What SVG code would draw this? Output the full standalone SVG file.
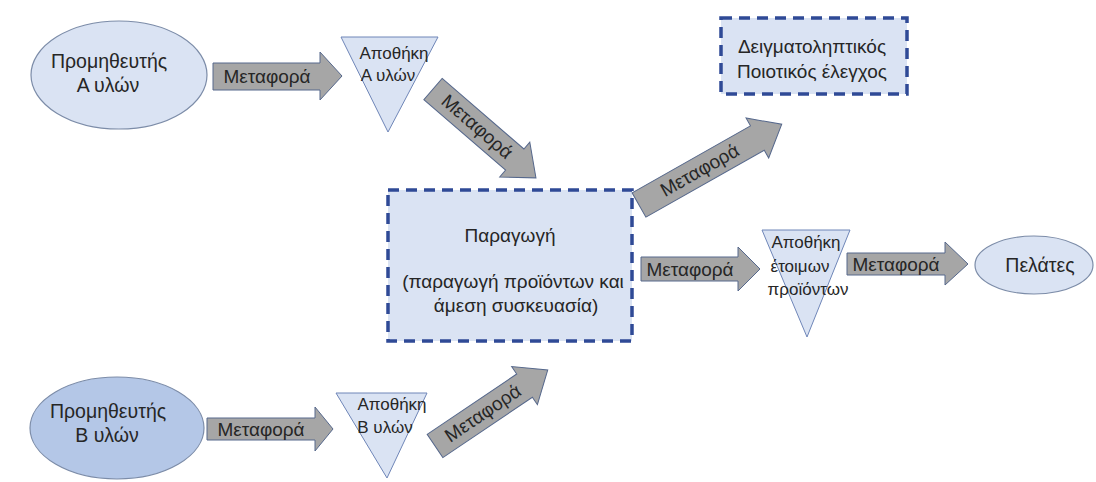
<svg xmlns="http://www.w3.org/2000/svg" width="1096" height="482" viewBox="0 0 1096 482">
<style>
text{font-family:"Liberation Sans","Noto Sans",sans-serif;fill:#262626;text-anchor:middle}
.sup{fill:#dae3f3;stroke:#7c8ca8;stroke-width:1.2}
.supB{fill:#b4c7e7;stroke:#7c8ca8;stroke-width:1.2}
.tri{fill:#dae3f3;stroke:#6f86b8;stroke-width:1}
.dash{fill:#dae3f3;stroke:#2f4a96;stroke-width:3.5;stroke-dasharray:11 7}
.arr{fill:#a6a6a6;stroke:#56688c;stroke-width:1}
.lbl{font-size:19px}
.big{font-size:19.5px}
.sm{font-size:17px}
</style>
<rect width="1096" height="482" fill="#ffffff"/>
<g id="supplierA">
<ellipse class="sup" cx="119" cy="75" rx="88" ry="54"/>
<text class="big" x="109" y="68">Προμηθευτής</text>
<text class="big" x="108" y="92">Α υλών</text>
</g>
<g id="supplierB">
<ellipse class="supB" cx="117" cy="428" rx="87" ry="51"/>
<text class="big" x="108" y="418">Προμηθευτής</text>
<text class="big" x="107" y="442">Β υλών</text>
</g>
<g id="storageA">
<polygon class="tri" points="341,37 438,37 388,132"/>
<text class="sm" x="394" y="59">Αποθήκη</text>
<text class="sm" x="388" y="81">Α υλών</text>
</g>
<g id="storageB">
<polygon class="tri" points="336,393 427,393 387,478"/>
<text class="sm" x="392" y="410">Αποθήκη</text>
<text class="sm" x="385" y="433">Β υλών</text>
</g>
<g id="production">
<rect class="dash" x="388" y="190" width="244" height="151"/>
<text class="lbl" x="510" y="242">Παραγωγή</text>
<text class="lbl" x="513" y="288">(παραγωγή προϊόντων και</text>
<text class="lbl" x="516" y="312">άμεση συσκευασία)</text>
</g>
<g id="qc">
<rect class="dash" x="721" y="18" width="186" height="76"/>
<text class="lbl" x="812" y="53">Δειγματοληπτικός</text>
<text class="lbl" x="812" y="78">Ποιοτικός έλεγχος</text>
</g>
<g id="storageProducts">
<polygon class="tri" points="762,230 850,230 807,337"/>
<text class="sm" x="806" y="248">Αποθήκη</text>
<text class="sm" x="800" y="272">έτοιμων</text>
<text class="sm" x="808" y="295">προϊόντων</text>
</g>
<g id="customers">
<ellipse class="sup" cx="1034" cy="265" rx="59" ry="29"/>
<text class="big" x="1040" y="272">Πελάτες</text>
</g>
<g id="connectors">
<g id="arrow1">
<polygon class="arr" points="213,63 320,63 320,52 342,76 320,100 320,90 213,90"/>
<text class="lbl" x="267" y="83">Μεταφορά</text>
</g>
<g id="arrow2" transform="translate(433,89) rotate(40.8)">
<polygon class="arr" points="0,-14 108,-14 108,-23 136,0 108,23 108,14 0,14"/>
<text class="lbl" x="58" y="6">Μεταφορά</text>
</g>
<g id="arrow3" transform="translate(639,205) rotate(-29.5)">
<polygon class="arr" points="0,-14 136,-14 136,-23 164,0 136,23 136,14 0,14"/>
<text class="lbl" x="70" y="6">Μεταφορά</text>
</g>
<g id="arrow4">
<polygon class="arr" points="641,257 738,257 738,247 760,269 738,291 738,281 641,281"/>
<text class="lbl" x="690" y="276">Μεταφορά</text>
</g>
<g id="arrow5">
<polygon class="arr" points="847,253 945,253 945,242 968,264 945,285 945,275 847,275"/>
<text class="lbl" x="896" y="271">Μεταφορά</text>
</g>
<g id="arrow6">
<polygon class="arr" points="207,418 315,418 315,407 333,429 315,451 315,440 207,440"/>
<text class="lbl" x="261" y="436">Μεταφορά</text>
</g>
<g id="arrow7" transform="translate(435,446) rotate(-34)">
<polygon class="arr" points="0,-14 108,-14 108,-23 136,0 108,23 108,14 0,14"/>
<text class="lbl" x="58" y="6">Μεταφορά</text>
</g>
</g>
</svg>
